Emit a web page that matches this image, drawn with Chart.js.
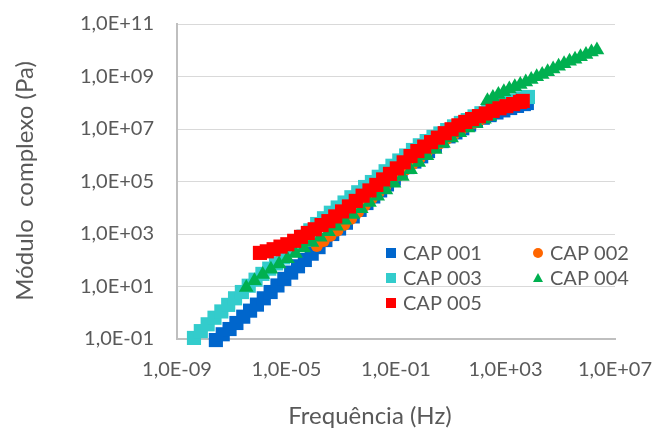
<!DOCTYPE html>
<html>
<head>
<meta charset="utf-8">
<script src="https://cdn.jsdelivr.net/npm/chart.js@4.4.1/dist/chart.umd.min.js"></script>
<style>
  html, body { margin: 0; padding: 0; background: #fff; }
  #wrap { width: 655px; height: 429px; }
</style>
</head>
<body>
<div id="wrap"><canvas id="chart" width="655" height="429"></canvas></div>
<script>
const seriesNames = ['CAP 001', 'CAP 002', 'CAP 003', 'CAP 004', 'CAP 005'];

const cap001LogFreq = [-7.58, -7.33, -7.08, -6.83, -6.58, -6.33, -6.08, -5.83, -5.58, -5.33, -5.08, -4.83, -4.58, -4.33, -4.08, -3.83,
  -3.58, -3.33, -3.08, -2.83, -2.58, -2.33, -2.08, -1.83, -1.58, -1.33, -1.08, -0.83, -0.58, -0.33, -0.08, 0.17,
  0.42, 0.67, 0.92, 1.17, 1.42, 1.67, 1.92, 2.17, 2.42, 2.67, 2.92, 3.17, 3.42, 3.67, 3.78];
const cap001LogMod = [-1.04, -0.82, -0.62, -0.39, -0.15, 0.08, 0.31, 0.55, 0.79, 1.04, 1.29, 1.53, 1.77, 2.01, 2.25, 2.50,
  2.77, 3.00, 3.21, 3.43, 3.67, 3.92, 4.18, 4.43, 4.66, 4.89, 5.11, 5.33, 5.55, 5.76, 5.96, 6.16,
  6.36, 6.54, 6.72, 6.87, 7.03, 7.17, 7.31, 7.43, 7.53, 7.63, 7.71, 7.80, 7.88, 7.95, 7.99];

const cap002LogFreq = [-3.89, -3.64, -3.39, -3.14, -2.89, -2.64, -2.39, -2.14, -1.89, -1.64, -1.39, -1.14, -0.89, -0.64, -0.39, -0.14,
  0.11, 0.36, 0.61, 0.86, 1.11, 1.36, 1.61, 1.86, 2.11];
const cap002LogMod = [2.54, 2.73, 2.93, 3.13, 3.35, 3.58, 3.83, 4.09, 4.34, 4.57, 4.80, 5.02, 5.24, 5.46, 5.67, 5.88,
  6.08, 6.28, 6.46, 6.63, 6.79, 6.95, 7.10, 7.24, 7.37];

const cap003LogFreq = [-8.38, -8.13, -7.88, -7.63, -7.38, -7.13, -6.88, -6.63, -6.38, -6.13, -5.88, -5.63, -5.38, -5.13, -4.88, -4.63,
  -4.38, -4.13, -3.88, -3.63, -3.38, -3.13, -2.88, -2.63, -2.38, -2.13, -1.88, -1.63, -1.38, -1.13, -0.88, -0.63,
  -0.38, -0.13, 0.12, 0.37, 0.62, 0.87, 1.12, 1.37, 1.62, 1.87, 2.12, 2.37, 2.62, 2.87, 3.12, 3.37, 3.62, 3.82];
const cap003LogMod = [-0.96, -0.70, -0.44, -0.19, 0.05, 0.30, 0.55, 0.79, 1.03, 1.26, 1.48, 1.68, 1.88, 2.11, 2.38, 2.65,
  2.90, 3.14, 3.38, 3.60, 3.81, 4.01, 4.20, 4.40, 4.59, 4.79, 4.98, 5.18, 5.39, 5.60, 5.80, 5.99,
  6.20, 6.38, 6.54, 6.70, 6.83, 6.96, 7.10, 7.23, 7.34, 7.48, 7.60, 7.71, 7.82, 7.92, 8.01, 8.09, 8.17, 8.22];

const cap004LogFreq = [-6.47, -6.17, -5.87, -5.57, -5.27, -4.97, -4.67, -4.37, -4.07, -3.77, -3.47, -3.17, -2.87, -2.57, -2.27, -1.97,
  -1.67, -1.37, -1.07, -0.77, -0.47, -0.17, 0.13, 0.43, 0.73, 1.03, 1.33, 1.63, 1.93, 2.23, 2.43,
  2.34, 2.54, 2.74, 2.94, 3.14, 3.34, 3.54, 3.74, 3.94, 4.14, 4.34, 4.54, 4.74, 4.94, 5.14, 5.34, 5.54, 5.74, 5.94, 6.14, 6.34];
const cap004LogMod = [0.96, 1.22, 1.46, 1.66, 1.86, 2.06, 2.26, 2.47, 2.68, 2.88, 3.09, 3.30, 3.52, 3.74, 3.96, 4.20,
  4.44, 4.68, 4.93, 5.19, 5.45, 5.72, 5.98, 6.22, 6.45, 6.66, 6.86, 7.04, 7.21, 7.37, 7.48,
  8.08, 8.20, 8.31, 8.42, 8.52, 8.61, 8.70, 8.79, 8.89, 8.99, 9.08, 9.18, 9.29, 9.39, 9.49, 9.58, 9.66, 9.75, 9.84, 9.93, 10.01];

const cap005LogFreq = [-5.97, -5.72, -5.47, -5.22, -4.97, -4.72, -4.47, -4.22, -3.97, -3.72, -3.47, -3.22, -2.97, -2.72, -2.47, -2.22,
  -1.97, -1.72, -1.47, -1.22, -0.97, -0.72, -0.47, -0.22, 0.03, 0.28, 0.53, 0.78, 1.03, 1.28, 1.53, 1.78,
  2.03, 2.28, 2.53, 2.78, 3.03, 3.28, 3.53, 3.63];
const cap005LogMod = [2.28, 2.34, 2.42, 2.52, 2.61, 2.74, 2.89, 3.04, 3.18, 3.34, 3.49, 3.67, 3.86, 4.05, 4.26, 4.46,
  4.66, 4.87, 5.08, 5.29, 5.50, 5.73, 5.97, 6.16, 6.33, 6.50, 6.67, 6.84, 6.99, 7.14, 7.27, 7.38,
  7.49, 7.59, 7.69, 7.79, 7.87, 7.95, 8.03, 8.07];

const xTickValues = [1e-9, 1e-5, 1e-1, 1e3, 1e7];
const xTickLabels = ['1,0E-09', '1,0E-05', '1,0E-01', '1,0E+03', '1,0E+07'];
const yTickValues = [1e-1, 1e1, 1e3, 1e5, 1e7, 1e9, 1e11];
const yTickLabels = ['1,0E-01', '1,0E+01', '1,0E+03', '1,0E+05', '1,0E+07', '1,0E+09', '1,0E+11'];

const xTitle = 'Frequência (Hz)';
const yTitle = 'Módulo  complexo (Pa)';

const textColor = '#595959';
const fontFamily = 'Lato, "Open Sans", sans-serif';

const toPoints = (lf, lm) => lf.map((v, i) => ({ x: Math.pow(10, v), y: Math.pow(10, lm[i]) }));

// excel draws the last series on top; chart.js draws lower "order" on top
const datasets = [
  { label: seriesNames[0], data: toPoints(cap001LogFreq, cap001LogMod), pointStyle: 'rect', pointRadius: 10, color: '#0066CC', order: 5 },
  { label: seriesNames[1], data: toPoints(cap002LogFreq, cap002LogMod), pointStyle: 'circle', pointRadius: 6, color: '#FF6600', order: 4 },
  { label: seriesNames[2], data: toPoints(cap003LogFreq, cap003LogMod), pointStyle: 'rect', pointRadius: 10, color: '#33CCCC', order: 3 },
  { label: seriesNames[3], data: toPoints(cap004LogFreq, cap004LogMod), pointStyle: 'triangle', pointRadius: 8.5, color: '#00B050', order: 2 },
  { label: seriesNames[4], data: toPoints(cap005LogFreq, cap005LogMod), pointStyle: 'rect', pointRadius: 10, color: '#FF0000', order: 1 },
].map(d => ({
  label: d.label,
  data: d.data,
  order: d.order,
  showLine: false,
  clip: false,
  pointStyle: d.pointStyle,
  pointRadius: d.pointRadius,
  pointHoverRadius: d.pointRadius,
  pointBackgroundColor: d.color,
  pointBorderColor: d.color,
  pointBorderWidth: 0,
  backgroundColor: d.color,
  borderColor: d.color,
}));

// axis titles and the legend box inside the plot
const extras = {
  id: 'extras',
  afterDraw(chart) {
    const ctx = chart.ctx;
    ctx.save();
    ctx.fillStyle = textColor;
    ctx.font = '24px ' + fontFamily;
    ctx.textAlign = 'center';
    ctx.textBaseline = 'middle';
    ctx.fillText(xTitle, 370, 416);
    ctx.save();
    ctx.translate(25, 181);
    ctx.rotate(-Math.PI / 2);
    ctx.fillText(yTitle, 0, 0);
    ctx.restore();

    const slots = [[391, 253], [538, 253], [391, 278], [538, 278], [391, 303]];
    ctx.font = '20px ' + fontFamily;
    ctx.textAlign = 'left';
    ctx.textBaseline = 'alphabetic';
    chart.data.datasets.forEach((ds, i) => {
      const [cx, cy] = slots[i];
      ctx.fillStyle = ds.pointBackgroundColor;
      ctx.beginPath();
      if (ds.pointStyle === 'circle') {
        ctx.arc(cx, cy, 5, 0, Math.PI * 2);
      } else if (ds.pointStyle === 'triangle') {
        ctx.moveTo(cx, cy - 5);
        ctx.lineTo(cx + 5, cy + 4);
        ctx.lineTo(cx - 5, cy + 4);
        ctx.closePath();
      } else {
        ctx.rect(cx - 5, cy - 5, 10, 10);
      }
      ctx.fill();
      ctx.fillStyle = textColor;
      ctx.fillText(ds.label, cx + 12, cy + 6.5);
    });
    ctx.restore();
  }
};

new Chart(document.getElementById('chart'), {
  type: 'scatter',
  data: { datasets },
  plugins: [extras],
  options: {
    responsive: false,
    animation: false,
    events: [],
    layout: { padding: { left: 0, right: 40, top: 24, bottom: 0 } },
    plugins: {
      legend: { display: false },
      tooltip: { enabled: false },
    },
    scales: {
      x: {
        type: 'logarithmic',
        min: 1e-9,
        max: 1e7,
        afterBuildTicks: (scale) => { scale.ticks = xTickValues.map(v => ({ value: v })); },
        afterFit: (scale) => {
          scale.height = 90;
          scale.paddingLeft = 0;
          scale.paddingRight = 0;
        },
        grid: { display: false, drawTicks: false },
        border: { display: true, color: '#bfbfbf', width: 2 },
        ticks: {
          autoSkip: false,
          maxRotation: 0,
          padding: 19,
          color: textColor,
          font: { family: fontFamily, size: 20 },
          callback: (v, i) => xTickLabels[i],
        },
      },
      y: {
        type: 'logarithmic',
        min: 1e-1,
        max: 1e11,
        afterBuildTicks: (scale) => { scale.ticks = yTickValues.map(v => ({ value: v })); },
        afterFit: (scale) => {
          scale.width = 177;
          scale.paddingTop = 0;
          scale.paddingBottom = 0;
        },
        grid: { color: '#d9d9d9', lineWidth: 1, drawTicks: false },
        border: { display: true, color: '#bfbfbf', width: 2 },
        ticks: {
          padding: 23,
          color: textColor,
          font: { family: fontFamily, size: 20 },
          callback: (v, i) => yTickLabels[i],
        },
      },
    },
  },
});
</script>
</body>
</html>
